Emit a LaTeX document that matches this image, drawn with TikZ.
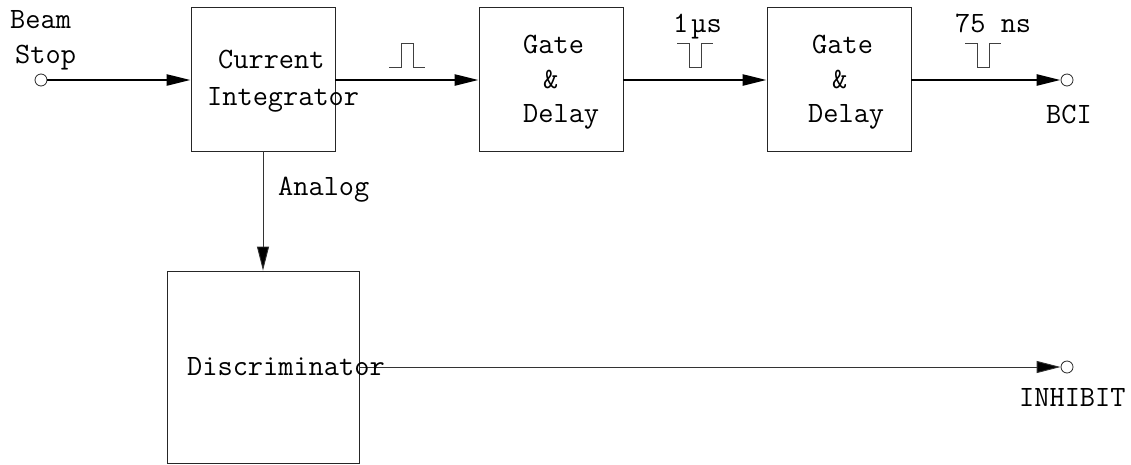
\documentclass[tikz,border=0pt]{standalone}
\usepackage{fontspec}
\usetikzlibrary{arrows.meta}
\begin{document}
\begin{tikzpicture}[x=1pt,y=-1pt,
  blockbox/.style={draw=black!85,line width=0.9pt,minimum width=144pt,minimum height=144pt,inner sep=0pt},
  terminal/.style={circle,draw=black!85,line width=0.8pt,fill=white,minimum size=12pt,inner sep=0pt},
  lbl/.style={anchor=base west,inner sep=0pt,font=\ttfamily\fontsize{29.5}{33}\selectfont},
  mainflow/.style={line width=2.4pt,-{Triangle[length=24pt,width=11pt]}},
  sideflow/.style={line width=0.9pt,draw=black!80,-{Triangle[length=24pt,width=12pt,fill=black]}},
  pulse/.style={line width=0.8pt,draw=black!75}
]
\useasboundingbox (0,0) rectangle (1131,464);

% blocks
\node[blockbox] (ci) at (263,79) {};
\node[blockbox] (gd1) at (551,79) {};
\node[blockbox] (gd2) at (839,79) {};
\node[blockbox,minimum width=192pt,minimum height=192pt] (disc) at (263,367) {};

% terminals
\node[terminal] (beam) at (41,80) {};
\node[terminal] (bci) at (1067,80) {};
\node[terminal] (inh) at (1067,367) {};

% signal paths
\draw[mainflow] (beam) -- (ci.west |- beam);
\draw[mainflow] (ci.east |- 0,80) -- (gd1.west |- 0,80);
\draw[mainflow] (gd1.east |- 0,80) -- (gd2.west |- 0,80);
\draw[mainflow] (gd2.east |- 0,80) -- (bci);
\draw[sideflow] (ci) -- (disc);
\draw[sideflow] (disc.east |- inh) -- (inh);

% pulse shapes
\draw[pulse] (389,67) -- (401,67) -- (401,43) -- (413,43) -- (413,67) -- (425,67);
\draw[pulse] (677,43) -- (689,43) -- (689,67) -- (701,67) -- (701,43) -- (713,43);
\draw[pulse] (965,43) -- (977,43) -- (977,67) -- (989,67) -- (989,43) -- (1001,43);

% labels
\node[lbl] (tbeam) at (10,28) {Beam};
\node[lbl] (tstop) at (15,63) {Stop};
\node[lbl] (tcur) at (218,68) {Current};
\node[lbl] (tint) at (207,105) {Integrator};
\node[lbl] (tgate1) at (523,53) {Gate};
\node[lbl] (tamp1) at (543,88) {\&};
\node[lbl] (tdel1) at (523,122) {Delay};
\node[lbl] (tgate2) at (812,53) {Gate};
\node[lbl] (tamp2) at (832,88) {\&};
\node[lbl] (tdel2) at (808,122) {Delay};
\node[lbl] (tus) at (673,32) {1\kern3ptµs};
\node[lbl] (tns) at (955,32) {75 ns};
\node[lbl] (tbci) at (1046,123) {BCI};
\node[lbl] (tana) at (278,195) {Analog};
\node[lbl] (tdisc) at (187,375) {Discriminator};
\node[lbl] (tinh) at (1019,406) {INHIBIT};
\end{tikzpicture}
\end{document}
